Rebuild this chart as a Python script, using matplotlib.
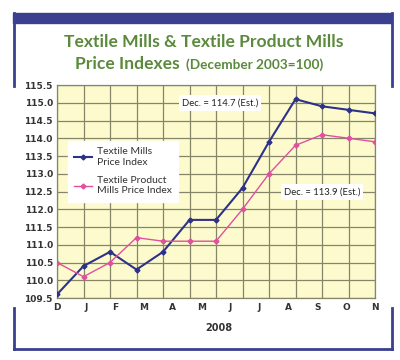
import matplotlib.pyplot as plt
from matplotlib.patches import Rectangle
from matplotlib.lines import Line2D
import numpy as np

months = ['D', 'J', 'F', 'M', 'A', 'M', 'J', 'J', 'A', 'S', 'O', 'N']
textile_mills = [109.6, 110.4, 110.8, 110.3, 110.8, 111.7, 111.7, 112.6,
                 113.9, 115.1, 114.9, 114.8, 114.7]
product_mills = [110.5, 110.1, 110.5, 111.2, 111.1, 111.1, 111.1, 112.0,
                 113.0, 113.8, 114.1, 114.0, 113.9]
yticks = [109.5, 110.0, 110.5, 111.0, 111.5, 112.0, 112.5, 113.0,
          113.5, 114.0, 114.5, 115.0, 115.5]

navy = '#2e3188'
pink = '#e0509e'
green = '#5b8a3c'
frame = '#3a3f8f'

plt.rcParams['font.family'] = ['Lato', 'DejaVu Sans']

fig = plt.figure(figsize=(4, 3.6), dpi=100)
W, H = 400, 360

def fx(px):
    return px / W

def fy(py):
    return 1 - py / H

# navy frame around the chart
fig.patches.append(Rectangle((fx(13), fy(23)), fx(392) - fx(13), fy(13) - fy(23),
                             transform=fig.transFigure, color=frame, zorder=0))
for xs, ys in [([14, 14], [13, 86]), ([392, 392], [13, 86]),
               ([14, 14], [308, 349]), ([392, 392], [308, 349]),
               ([14, 392], [349, 349])]:
    fig.lines.append(Line2D([fx(x) for x in xs], [fy(y) for y in ys],
                            transform=fig.transFigure, color=frame, lw=2))

# title
fig.text(fx(204), fy(42), 'Textile Mills & Textile Product Mills', color=green,
         fontsize=12.6, fontweight='bold', ha='center', va='center')
fig.text(fx(184), fy(64), 'Price Indexes ', color=green,
         fontsize=12.6, fontweight='bold', ha='right', va='center')
fig.text(fx(186), fy(65), '(December 2003=100)', color=green,
         fontsize=9.8, fontweight='bold', ha='left', va='center')

ax = fig.add_axes([fx(57), fy(298), fx(375) - fx(57), fy(85) - fy(298)])
ax.set_facecolor('#fdfbcd')
x = np.arange(len(textile_mills))
ax.plot(x, textile_mills, color=navy, lw=1.5, marker='D', ms=2.5,
        label='Textile Mills\nPrice Index', zorder=3)
ax.plot(x, product_mills, color=pink, lw=1.0, marker='D', ms=2.5,
        label='Textile Product\nMills Price Index', zorder=3)

ax.set_xlim(0, len(textile_mills) - 1)
ax.set_ylim(109.5, 115.5)
ax.set_xticks(x)
ax.set_xticklabels([''] * len(x))
ax.set_yticks(yticks)
ax.set_yticklabels(['%.1f' % v for v in yticks], fontsize=6.5,
                   fontweight='bold', color='#333333', family='DejaVu Sans')
ax.grid(True, color='#85856a', lw=0.9)
ax.tick_params(length=0, pad=3)
for s in ax.spines.values():
    s.set_color('#85856a')
    s.set_linewidth(0.9)

for pos, m in zip(np.linspace(0, 12, len(months)), months):
    ax.text(pos, 109.22, m, ha='center', va='center', fontsize=6.5,
            fontweight='bold', color='#333333', family='DejaVu Sans')

ax.text(6.1, 108.65, '2008', ha='center', va='center', fontsize=7,
        fontweight='bold', color='#333333', family='DejaVu Sans')

box = dict(boxstyle='square,pad=0.35', fc='white', ec='none')
ax.text(6.15, 115.0, 'Dec. = 114.7 (Est.)', ha='center', va='center',
        fontsize=6.8, color='#222222', bbox=box, zorder=4)
ax.text(10.0, 112.48, 'Dec. = 113.9 (Est.)', ha='center', va='center',
        fontsize=6.8, color='#222222', bbox=box, zorder=4)

leg = ax.legend(loc='upper left', bbox_to_anchor=(0.035, 0.737), fontsize=7.5,
                frameon=True, fancybox=False, framealpha=1, edgecolor='white',
                handlelength=1.7, handletextpad=0.5, labelspacing=0.9,
                borderpad=0.6, borderaxespad=0)
for t in leg.get_texts():
    t.set_color('#333333')

fig.savefig('out.png', dpi=100)
